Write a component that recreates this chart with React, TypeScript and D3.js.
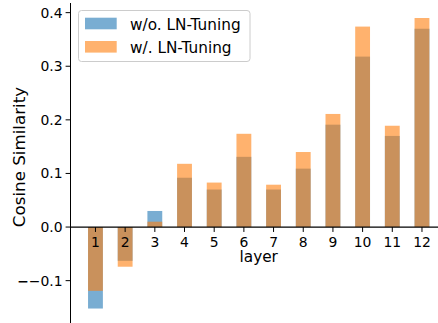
import React from "react";
import * as d3 from "d3";

const layers = [1, 2, 3, 4, 5, 6, 7, 8, 9, 10, 11, 12];
const withoutLN = [-0.152, -0.063, 0.030, 0.092, 0.070, 0.131, 0.070, 0.109, 0.191, 0.318, 0.170, 0.370];
const withLN = [-0.119, -0.074, 0.010, 0.118, 0.083, 0.174, 0.079, 0.140, 0.211, 0.374, 0.189, 0.390];
const yTicks = [-0.1, 0.0, 0.1, 0.2, 0.3, 0.4];
const seriesNames = ["w/o. LN-Tuning", "w/. LN-Tuning"];
const colors = ["#1f77b4", "#ff7f0e"];

const W = 438;
const H = 323;
const FONT = "'DejaVu Sans', sans-serif";
const TICK_FS = 13.9;
const LABEL_FS = 15.3;
const YLABEL_FS = 16.7;

export default function App() {
  const x = d3.scaleLinear().domain([0.159, 12.54]).range([70.5, 438]);
  const y = d3.scaleLinear().domain([-0.179, 0.418]).range([323, 3]);
  const step = x(2) - x(1);
  const bw = step * 0.5;
  const y0 = y(0);
  const series = [withoutLN, withLN];
  const fmt = d3.format(".1f");

  return (
    <svg
      width={W}
      height={H}
      style={{ position: "absolute", left: 0, top: 0, background: "#fff", fontFamily: FONT }}
    >
      <rect x={0} y={0} width={W} height={H} fill="#fff" />
      {series.map((vals, si) => (
        <g key={si}>
          {vals.map((v, i) => (
            <rect
              key={i}
              x={x(layers[i]) - bw / 2}
              y={Math.min(y(v), y0)}
              width={bw}
              height={Math.abs(y(v) - y0)}
              fill={colors[si]}
              fillOpacity={0.6}
            />
          ))}
        </g>
      ))}
      {/* left spine */}
      <line x1={70.5} x2={70.5} y1={3} y2={H} stroke="#000" strokeWidth={1} />
      {/* zero spine */}
      <line x1={70.5} x2={W} y1={y0} y2={y0} stroke="#000" strokeWidth={1.3} />
      {/* y ticks */}
      {yTicks.map((t) => {
        const s = fmt(t);
        const neg = t < 0;
        return (
          <g key={t}>
            <line x1={65.6} x2={70.5} y1={y(t)} y2={y(t)} stroke="#000" strokeWidth={1} />
            <text x={62.5} y={y(t)} dy="0.36em" textAnchor="end" fontSize={TICK_FS} fill="#000">
              {neg ? (
                <>
                  <tspan fontWeight="bold">−</tspan>
                  <tspan>{s.replace("-", "")}</tspan>
                </>
              ) : (
                s
              )}
            </text>
          </g>
        );
      })}
      {/* x ticks */}
      {layers.map((l) => (
        <g key={l}>
          <line x1={x(l)} x2={x(l)} y1={y0} y2={y0 + 4.9} stroke="#000" strokeWidth={1} />
          <text x={x(l)} y={y0 + 19.5} textAnchor="middle" fontSize={TICK_FS} fill="#000">
            {l}
          </text>
        </g>
      ))}
      <text x={x(6.5)} y={262} textAnchor="middle" fontSize={LABEL_FS} fill="#000">
        layer
      </text>
      <text
        transform={`translate(24.5,157) rotate(-90)`}
        textAnchor="middle"
        fontSize={YLABEL_FS}
        fill="#000"
      >
        Cosine Similarity
      </text>
      {/* legend */}
      <g>
        <rect x={78.5} y={10.5} width={171.5} height={51} rx={3} fill="#fff" fillOpacity={0.8} stroke="#ccc" strokeWidth={1} />
        {seriesNames.map((n, i) => (
          <g key={n}>
            <rect x={85} y={17.7 + i * 23.3} width={31.7} height={11.6} fill={colors[i]} fillOpacity={0.6} />
            <text x={130} y={29.8 + i * 23.3} fontSize={LABEL_FS} fill="#000">
              {n}
            </text>
          </g>
        ))}
      </g>
    </svg>
  );
}
